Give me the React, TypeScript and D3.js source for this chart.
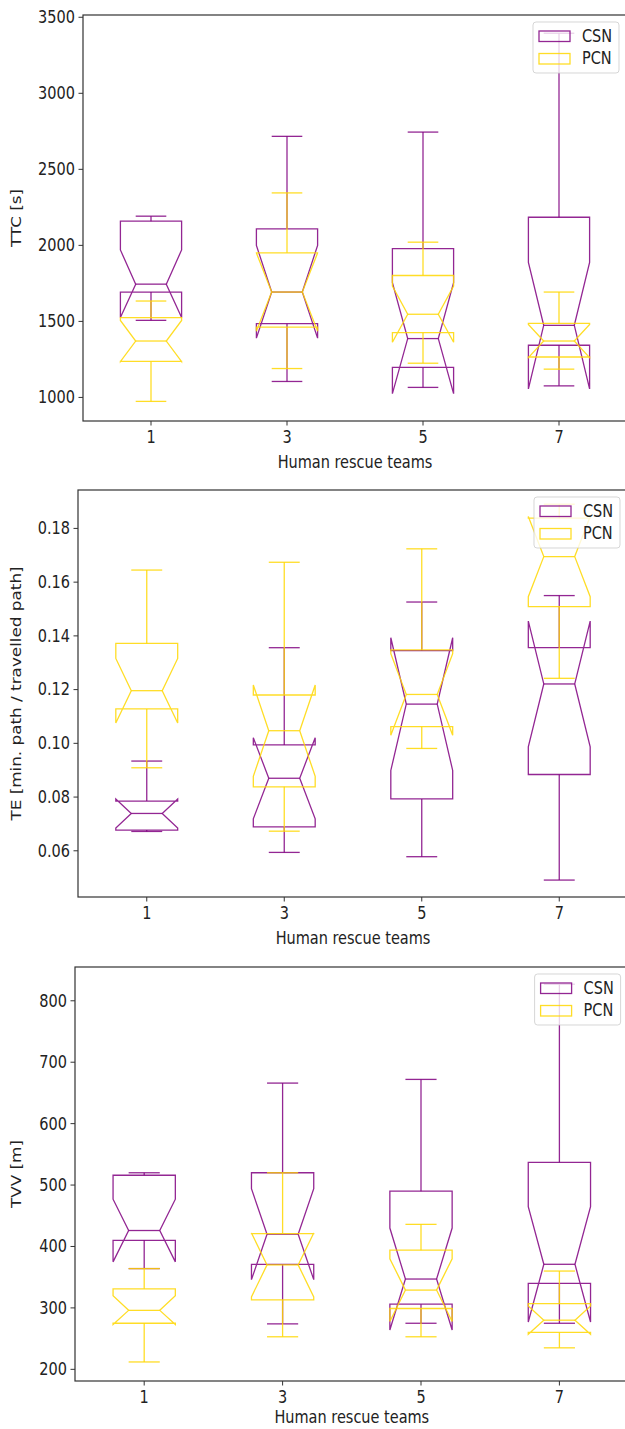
import * as d3 from "d3";
import React from "react";

// box stats per team: [whiskerLo, q1, notchLo, median, notchHi, q3, whiskerHi]
const teams = ["1", "3", "5", "7"];

const ttcCsn = [
  [1507, 1693, 1525, 1745, 1970, 2159, 2192],
  [1105, 1485, 1390, 1693, 2000, 2109, 2717],
  [1066, 1197, 1025, 1387, 1755, 1978, 2745],
  [1076, 1343, 1056, 1474, 1888, 2185, 3395],
];
const ttcPcn = [
  [974, 1237, 1236, 1371, 1506, 1525, 1634],
  [1190, 1463, 1436, 1693, 1950, 1951, 2345],
  [1225, 1426, 1363, 1547, 1732, 1802, 2021],
  [1186, 1266, 1262, 1371, 1480, 1487, 1693],
];

const teCsn = [
  [0.0672, 0.0677, 0.0685, 0.0739, 0.0793, 0.0785, 0.0934],
  [0.0594, 0.0689, 0.0719, 0.087, 0.1021, 0.0994, 0.1356],
  [0.0578, 0.0793, 0.0899, 0.1146, 0.1393, 0.1345, 0.1526],
  [0.0491, 0.0884, 0.0987, 0.1221, 0.1455, 0.1356, 0.155],
];
const tePcn = [
  [0.0909, 0.1128, 0.1076, 0.1196, 0.1316, 0.1372, 0.1645],
  [0.0673, 0.0838, 0.0877, 0.1047, 0.1217, 0.118, 0.1674],
  [0.0981, 0.1062, 0.103, 0.1182, 0.1334, 0.1348, 0.1724],
  [0.1242, 0.1509, 0.1546, 0.1695, 0.1844, 0.1838, 0.189],
];

const tvvCsn = [
  [364, 410, 375, 426, 477, 516, 520],
  [274, 371, 346, 420, 494, 520, 666],
  [275, 306, 264, 347, 430, 490, 672],
  [275, 340, 277, 371, 465, 537, 827],
];
const tvvPcn = [
  [212, 275, 273, 296, 320, 331, 364],
  [253, 313, 318, 370, 422, 421, 520],
  [253, 299, 278, 329, 380, 394, 436],
  [235, 260, 257, 280, 303, 307, 360],
];

const ttcTicks = [1000, 1500, 2000, 2500, 3000, 3500];
const teTicks = [0.06, 0.08, 0.1, 0.12, 0.14, 0.16, 0.18];
const tvvTicks = [200, 300, 400, 500, 600, 700, 800];

const seriesNames = ["CSN", "PCN"];
const colors = ["purple", "gold"];

const FONT = "DejaVu Sans, sans-serif";
const BOX_W = 0.45;
// the picture is a little taller than wide, text too
const STRETCH = 1.16;

function Label({ x, y, anchor = "middle", rotate = 0, children }) {
  const tf =
    rotate !== 0
      ? `translate(${x},${y}) scale(1,${STRETCH}) rotate(${rotate})`
      : `translate(${x},${y}) scale(1,${STRETCH})`;
  return (
    <text transform={tf} dy="0.35em" textAnchor={anchor}>
      {children}
    </text>
  );
}

function BoxSet({ stats, x, y, color }) {
  return (
    <g stroke={color} strokeOpacity={0.85} strokeWidth={1.3} fill="none">
      {stats.map((s, i) => {
        const [wlo, q1, nlo, med, nhi, q3, whi] = s;
        const c = i + 1;
        const L = x(c - BOX_W / 2);
        const R = x(c + BOX_W / 2);
        const cl = x(c - BOX_W / 4);
        const cr = x(c + BOX_W / 4);
        const p = d3.path();
        p.moveTo(L, y(q1));
        p.lineTo(R, y(q1));
        p.lineTo(R, y(nlo));
        p.lineTo(cr, y(med));
        p.lineTo(R, y(nhi));
        p.lineTo(R, y(q3));
        p.lineTo(L, y(q3));
        p.lineTo(L, y(nhi));
        p.lineTo(cl, y(med));
        p.lineTo(L, y(nlo));
        p.closePath();
        const cx = x(c);
        return (
          <g key={i}>
            <line x1={cx} x2={cx} y1={y(q1)} y2={y(wlo)} />
            <line x1={cx} x2={cx} y1={y(q3)} y2={y(whi)} />
            <line x1={cl} x2={cr} y1={y(wlo)} y2={y(wlo)} />
            <line x1={cl} x2={cr} y1={y(whi)} y2={y(whi)} />
            <path d={p.toString()} strokeLinejoin="miter" />
            <line x1={cl} x2={cr} y1={y(med)} y2={y(med)} />
          </g>
        );
      })}
    </g>
  );
}

function Panel({ box, domain, ticks, fmt, ylabel, csn, pcn, xlabelGap = 41 }) {
  const { left, right, top, bottom } = box;
  const x = d3.scaleLinear().domain([0.5, 4.5]).range([left, right]);
  const y = d3.scaleLinear().domain(domain).range([bottom, top]);
  const legX = right - 94;
  const legY = top + 7;
  return (
    <g fontFamily={FONT} fontSize={14.5} fill="#222">
      <BoxSet stats={csn} x={x} y={y} color={colors[0]} />
      <BoxSet stats={pcn} x={x} y={y} color={colors[1]} />
      {/* spines */}
      <rect
        x={left}
        y={top}
        width={right - left}
        height={bottom - top}
        fill="none"
        stroke="#333"
        strokeWidth={1.2}
      />
      {ticks.map((t) => (
        <g key={t}>
          <line x1={left - 4.5} x2={left} y1={y(t)} y2={y(t)} stroke="#333" />
          <Label x={left - 8} y={y(t)} anchor="end">
            {fmt(t)}
          </Label>
        </g>
      ))}
      {teams.map((t, i) => (
        <g key={t}>
          <line
            x1={x(i + 1)}
            x2={x(i + 1)}
            y1={bottom}
            y2={bottom + 4.5}
            stroke="#333"
          />
          <Label x={x(i + 1)} y={bottom + 16}>
            {t}
          </Label>
        </g>
      ))}
      <Label x={(left + right) / 2} y={bottom + xlabelGap}>
        Human rescue teams
      </Label>
      <Label x={16} y={(top + bottom) / 2} rotate={-90}>
        {ylabel}
      </Label>
      {/* legend */}
      <g>
        <rect
          x={legX}
          y={legY}
          width={86}
          height={51}
          rx={3}
          fill="white"
          fillOpacity={0.8}
          stroke="#ccc"
          strokeOpacity={0.8}
        />
        {seriesNames.map((n, i) => (
          <g key={n}>
            <rect
              x={legX + 6}
              y={legY + 9 + i * 22.5}
              width={31}
              height={10.5}
              fill="none"
              stroke={colors[i]}
              strokeOpacity={0.85}
              strokeWidth={1.3}
            />
            <Label x={legX + 49} y={legY + 14 + i * 22.5} anchor="start">
              {n}
            </Label>
          </g>
        ))}
      </g>
    </g>
  );
}

export default function App() {
  return (
    <div style={{ position: "absolute", left: 0, top: 0 }}>
      <svg width={625} height={1429} style={{ display: "block" }}>
        <rect width={625} height={1429} fill="white" />
        <Panel
          box={{ left: 83, right: 627, top: 15, bottom: 421 }}
          domain={[845, 3515]}
          ticks={ttcTicks}
          fmt={(v) => String(v)}
          ylabel="TTC [s]"
          csn={ttcCsn}
          pcn={ttcPcn}
        />
        <Panel
          box={{ left: 78, right: 628, top: 490, bottom: 897 }}
          domain={[0.0428, 0.1943]}
          ticks={teTicks}
          fmt={d3.format(".2f")}
          ylabel="TE [min. path / travelled path]"
          csn={teCsn}
          pcn={tePcn}
        />
        <Panel
          box={{ left: 75, right: 628.6, top: 967, bottom: 1381 }}
          domain={[181, 855]}
          ticks={tvvTicks}
          fmt={(v) => String(v)}
          ylabel="TVV [m]"
          csn={tvvCsn}
          pcn={tvvPcn}
          xlabelGap={36}
        />
      </svg>
    </div>
  );
}
